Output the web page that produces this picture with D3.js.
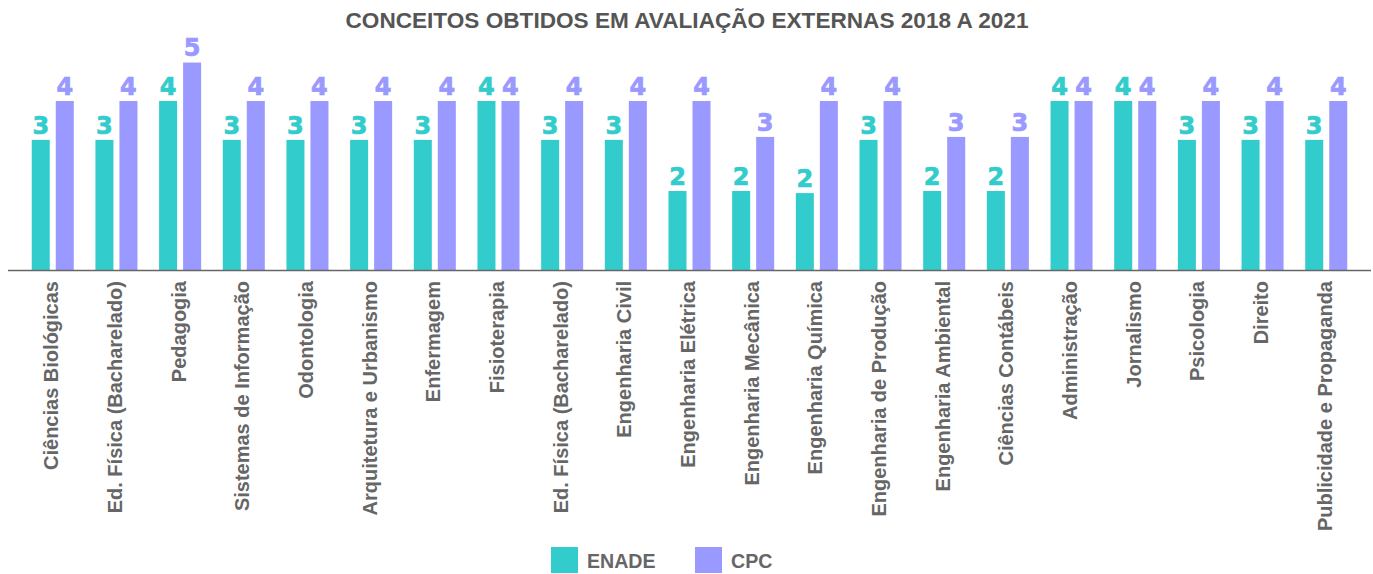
<!DOCTYPE html>
<html>
<head>
<meta charset="utf-8">
<script src="https://cdn.jsdelivr.net/npm/d3@7.9.0/dist/d3.min.js"></script>
<style>
    body { margin: 0; background: #fff; }
    svg { display: block; }
</style>
</head>
<body>
<div id="chart"></div>
<script>
const categories = [
    'Ciências Biológicas', 'Ed. Física (Bacharelado)', 'Pedagogia', 'Sistemas de Informação',
    'Odontologia', 'Arquitetura e Urbanismo', 'Enfermagem', 'Fisioterapia',
    'Ed. Física (Bacharelado)', 'Engenharia Civil', 'Engenharia Elétrica', 'Engenharia Mecânica',
    'Engenharia Química', 'Engenharia de Produção', 'Engenharia Ambiental', 'Ciências Contábeis',
    'Administração', 'Jornalismo', 'Psicologia', 'Direito', 'Publicidade e Propaganda'
];
const enade = [3.08, 3.08, 4, 3.08, 3.08, 3.08, 3.08, 4, 3.08, 3.08, 1.87,
               1.87, 1.82, 3.08, 1.87, 1.87, 4, 4, 3.08, 3.08, 3.08];
const cpc = [4, 4, 4.91, 4, 4, 4, 4, 4, 4, 4, 4,
             3.15, 4, 4, 3.15, 3.15, 4, 4, 4, 4, 4];
const series = ['ENADE', 'CPC'];
const colors = ['#33cccc', '#9999ff'];

const width = 1373, height = 574;
const baseY = 270;

const svg = d3.select('#chart')
    .append('svg')
    .attr('width', width)
    .attr('height', height);

const x0 = d3.scaleBand()
    .domain(d3.range(categories.length))
    .range([8, 1371])
    .paddingInner(0.34)
    .paddingOuter(0.373);

const x1 = d3.scaleBand()
    .domain(series)
    .range([0, x0.bandwidth()])
    .paddingInner(0.25);

const y = d3.scaleLinear()
    .domain([0, 5])
    .range([baseY, baseY - 5 * 42.25]);

const color = d3.scaleOrdinal().domain(series).range(colors);

// Title
svg.append('text')
    .attr('x', 687)
    .attr('y', 28)
    .attr('text-anchor', 'middle')
    .attr('font-family', 'Liberation Sans, Arial, sans-serif')
    .attr('font-weight', 'bold')
    .attr('font-size', 22.6)
    .attr('fill', '#555')
    .text('CONCEITOS OBTIDOS EM AVALIAÇÃO EXTERNAS 2018 A 2021');

const rows = categories.map((c, i) => ({ i, values: [enade[i], cpc[i]] }));

const groups = svg.append('g')
    .selectAll('g')
    .data(rows)
    .join('g')
    .attr('transform', d => `translate(${x0(d.i)},0)`);

groups.selectAll('rect')
    .data(d => series.map((s, k) => ({ s, v: d.values[k] })))
    .join('rect')
    .attr('x', d => x1(d.s))
    .attr('width', x1.bandwidth())
    .attr('y', d => y(d.v))
    .attr('height', d => y(0) - y(d.v))
    .attr('fill', d => color(d.s));

// value labels (rounded concept)
groups.selectAll('text.val')
    .data(d => series.map((s, k) => ({ s, v: d.values[k] })))
    .join('text')
    .attr('class', 'val')
    .attr('x', d => x1(d.s) + x1.bandwidth() / 2)
    .attr('y', d => y(d.v) - 6.3)
    .attr('text-anchor', 'middle')
    .attr('font-family', 'DejaVu Sans, sans-serif')
    .attr('font-weight', 'bold')
    .attr('font-size', 24)
    .attr('fill', d => color(d.s))
    .attr('stroke', d => color(d.s))
    .attr('stroke-width', 0.7)
    .text(d => Math.round(d.v));

// Baseline
svg.append('line')
    .attr('x1', 8)
    .attr('x2', 1371)
    .attr('y1', baseY + 0.5)
    .attr('y2', baseY + 0.5)
    .attr('stroke', '#666')
    .attr('stroke-width', 1.5);

// Category labels
svg.append('g')
    .selectAll('text')
    .data(categories)
    .join('text')
    .attr('transform', (d, i) => `translate(${x0(i) + x0.bandwidth() / 2 + 5.5},281) rotate(-90)`)
    .attr('text-anchor', 'end')
    .attr('font-family', 'Liberation Sans, Arial, sans-serif')
    .attr('font-weight', 'bold')
    .attr('font-size', 20)
    .attr('fill', '#666')
    .text(d => d);

// Legend
const legend = svg.append('g')
    .selectAll('g')
    .data(series)
    .join('g')
    .attr('transform', (d, i) => `translate(${551 + i * 144},547)`);

legend.append('rect')
    .attr('width', 27)
    .attr('height', 26)
    .attr('fill', d => color(d));

legend.append('text')
    .attr('x', 36)
    .attr('y', 20.5)
    .attr('font-family', 'Liberation Sans, Arial, sans-serif')
    .attr('font-weight', 'bold')
    .attr('font-size', 19.6)
    .attr('fill', '#666')
    .text(d => d);
</script>
</body>
</html>
